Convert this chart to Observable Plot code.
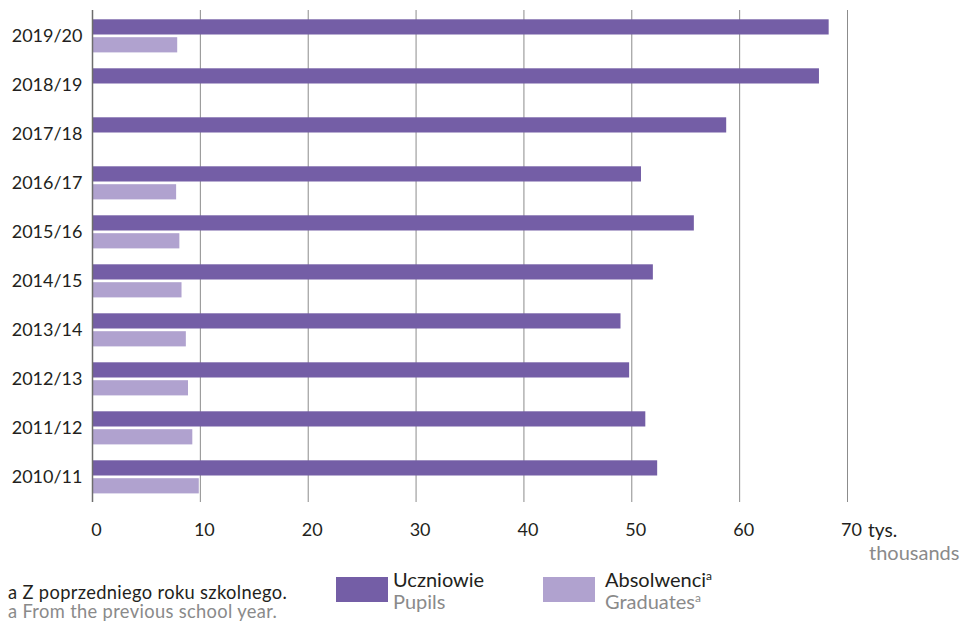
<!DOCTYPE html>
<html>
<head>
<meta charset="utf-8">
<script src="https://cdn.jsdelivr.net/npm/d3@7"></script>
<script src="https://cdn.jsdelivr.net/npm/@observablehq/plot@0.6"></script>
<style>
  html, body { margin: 0; padding: 0; background: #fff; }
  #wrap { position: relative; width: 966px; height: 621px; overflow: hidden; font-family: Lato, "Open Sans", sans-serif; color: #231f20; }
  #chart { position: absolute; left: 0; top: 0; }
  .abs { position: absolute; white-space: nowrap; line-height: 1; }
  .gray { color: #8a8a8a; }
  .sw { position: absolute; width: 52px; height: 25px; }
  sup { font-size: 0.6em; vertical-align: 0; position: relative; top: -0.55em; }
</style>
</head>
<body>
<div id="wrap">
  <div id="chart"></div>
  <div class="abs" style="left:868px; top:520px; font-size:19px;">tys.</div>
  <div class="abs gray" style="left:869px; top:542px; font-size:20px;">thousands</div>

  <div class="abs" style="left:8px; top:583px; font-size:18.3px; letter-spacing:0.35px;">a Z poprzedniego roku szkolnego.</div>
  <div class="abs gray" style="left:8px; top:602px; font-size:18.3px; letter-spacing:0.35px;">a From the previous school year.</div>

  <div class="sw" id="sw1" style="left:336px; top:577px;"></div>
  <div class="abs" style="left:393px; top:569px; font-size:20px;">Uczniowie</div>
  <div class="abs gray" style="left:393px; top:591px; font-size:20px;">Pupils</div>

  <div class="sw" id="sw2" style="left:543px; top:577px;"></div>
  <div class="abs" style="left:605px; top:569px; font-size:20px;">Absolwenci<sup>a</sup></div>
  <div class="abs gray" style="left:605px; top:591px; font-size:20px;">Graduates<sup>a</sup></div>
</div>
<script>
const years = ["2019/20","2018/19","2017/18","2016/17","2015/16","2014/15","2013/14","2012/13","2011/12","2010/11"];
const pupils = [68.3, 67.4, 58.8, 50.9, 55.8, 52.0, 49.0, 49.8, 51.3, 52.4];
const graduates = [7.9, null, null, 7.8, 8.1, 8.3, 8.7, 8.9, 9.3, 9.9];
const xTicks = [0, 10, 20, 30, 40, 50, 60, 70];
const gridTicks = [10, 20, 30, 40, 50, 60, 70];

const colorPupils = "#745ea6";
const colorGrads = "#b0a2cf";
document.getElementById("sw1").style.background = colorPupils;
document.getElementById("sw2").style.background = colorGrads;

const pupilRows = years.map((y, i) => ({year: y, value: pupils[i]}));
const gradRows = years.map((y, i) => ({year: y, value: graduates[i]})).filter(d => d.value != null);

const chart = Plot.plot({
  width: 966,
  height: 560,
  marginLeft: 92,
  marginRight: 119,
  marginTop: 10,
  marginBottom: 58,
  style: {fontFamily: "Lato, 'Open Sans', sans-serif", fontSize: "18px", color: "#231f20", background: "transparent"},
  x: {domain: [0, 70], ticks: xTicks, tickSize: 0, tickPadding: 21, tickFormat: d => String(d), label: null},
  y: {domain: years, padding: 0, tickSize: 0, tickPadding: 10, label: null},
  marks: [
    Plot.ruleX(gridTicks, {stroke: "#8c8c8c", strokeWidth: 1}),
    Plot.barX(pupilRows, {x: "value", y: "year", fill: colorPupils, insetTop: 8.3, insetBottom: 25.5}),
    Plot.barX(gradRows, {x: "value", y: "year", fill: colorGrads, insetTop: 26.2, insetBottom: 7.6}),
    Plot.ruleX([0], {stroke: "#6d6d6d", strokeWidth: 1.5})
  ]
});
chart.querySelectorAll("[aria-label='x-axis tick label'] text").forEach(t => t.setAttribute("dx", "4"));
document.getElementById("chart").appendChild(chart);
</script>
</body>
</html>
